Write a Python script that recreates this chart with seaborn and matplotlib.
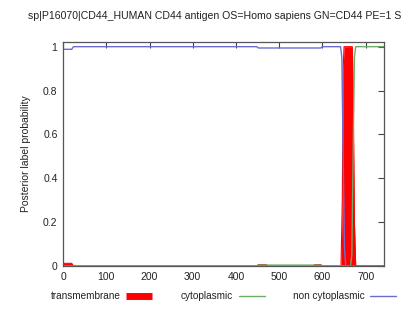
import matplotlib
matplotlib.use("Agg")
import matplotlib.pyplot as plt
from matplotlib.lines import Line2D
import seaborn as sns

# breakpoints (residue position, posterior)
tm_pos = [1, 20, 24, 448, 452, 470, 474, 578, 582, 596, 600, 643, 646, 648, 650, 669, 671, 674, 677, 742]
tm_val = [0.012, 0.012, 0.0, 0.0, 0.006, 0.006, 0.0, 0.0, 0.006, 0.006, 0.0, 0.0, 0.3, 0.9, 1.0, 1.0, 0.8, 0.2, 0.0, 0.0]

cyto_pos = [1, 448, 452, 596, 600, 665, 668, 671, 674, 677, 742]
cyto_val = [0.0, 0.0, 0.004, 0.004, 0.0, 0.0, 0.05, 0.5, 0.95, 1.0, 1.0]

noncyto_pos = [1, 20, 24, 448, 452, 596, 600, 642, 645, 648, 651, 654, 742]
noncyto_val = [0.988, 0.988, 1.0, 1.0, 0.994, 0.994, 1.0, 1.0, 0.95, 0.5, 0.08, 0.0, 0.0]

title = "sp|P16070|CD44_HUMAN CD44 antigen OS=Homo sapiens GN=CD44 PE=1 S"
x_ticks = [0, 100, 200, 300, 400, 500, 600, 700]
y_ticks = [0, 0.2, 0.4, 0.6, 0.8, 1]
y_ticklabels = ["0", "0.2", "0.4", "0.6", "0.8", "1"]

sns.set_style("white")
plt.rcParams["font.family"] = ["Liberation Sans", "DejaVu Sans"]

fig = plt.figure(figsize=(4.07, 3.10), dpi=100)
ax = fig.add_axes([0.155, 0.142, 0.788, 0.723])

red = "#ff0000"
green = "#6aae6a"
blue = "#6c6cd0"

ax.fill_between(tm_pos, 0, tm_val, color=red, lw=0)
sns.lineplot(x=tm_pos, y=tm_val, color=red, lw=0.8, ax=ax)
sns.lineplot(x=cyto_pos, y=cyto_val, color=green, lw=1, ax=ax)
sns.lineplot(x=noncyto_pos, y=noncyto_val, color=blue, lw=1, ax=ax)

ax.set_xlim(0, 742)
ax.set_ylim(0, 1.022)
ax.set_xticks(x_ticks)
ax.set_yticks(y_ticks)
ax.set_yticklabels(y_ticklabels)
ax.tick_params(direction="in", length=4, width=0.8, labelsize=7.5, colors="#444444",
               labelcolor="#222222", top=True, right=True, pad=4)
for s in ax.spines.values():
    s.set_color("#555555")
    s.set_linewidth(0.9)
ax.set_ylabel("Posterior label probability", fontsize=7.5, color="#222222", labelpad=9)

fig.text(28 / 407, 1 - 16 / 310, title, fontsize=7.6, color="#222222", ha="left", va="center")

handles = [
    Line2D([], [], color=red, lw=5, solid_capstyle="butt"),
    Line2D([], [], color=green, lw=1),
    Line2D([], [], color=blue, lw=1),
]
labels = ["transmembrane", "cytoplasmic", "non cytoplasmic"]
leg = ax.legend(handles, labels, loc="center", bbox_to_anchor=(0.5, -0.135), ncol=3, frameon=False,
                markerfirst=False, fontsize=7.2, handlelength=2.6, columnspacing=2.8,
                handletextpad=0.6)
for t in leg.get_texts():
    t.set_color("#222222")

fig.savefig("out.png", dpi=100)
